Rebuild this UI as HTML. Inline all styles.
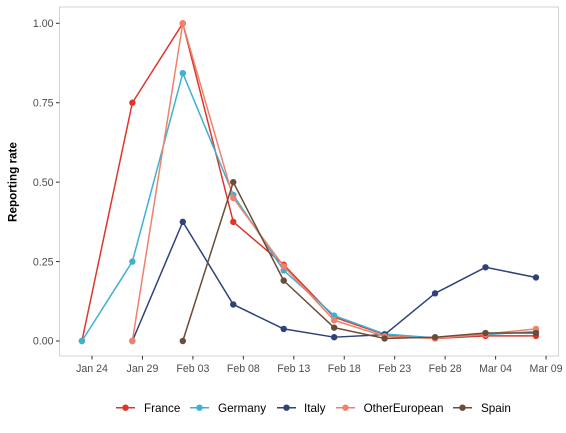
<!DOCTYPE html>
<html>
<head>
<meta charset="utf-8">
<title>Reporting rate</title>
<style>
html,body{margin:0;padding:0;background:#fff;}
svg{display:block;}
text{font-family:"Liberation Sans",Arial,sans-serif;}
</style>
</head>
<body>
<svg id="chart" xmlns="http://www.w3.org/2000/svg" width="566" height="433" viewBox="0 0 566 433"></svg>
<script>
const dayOffsets = [-1, 4, 9, 14, 19, 24, 29, 34, 39, 44];
const xTickDays = [0, 5, 10, 15, 20, 25, 30, 35, 40, 45];
const xTickLabels = ["Jan 24", "Jan 29", "Feb 03", "Feb 08", "Feb 13", "Feb 18", "Feb 23", "Feb 28", "Mar 04", "Mar 09"];
const yTicks = [0, 0.25, 0.5, 0.75, 1];
const yTickLabels = ["0.00", "0.25", "0.50", "0.75", "1.00"];
const seriesNames = ["France", "Germany", "Italy", "OtherEuropean", "Spain"];
const seriesColors = ["#E0352B", "#3FB1D0", "#2F4279", "#EE826D", "#6B4C38"];
const france = [0, 0.75, 1, 0.375, 0.24, 0.075, 0.02, 0.008, 0.016, 0.016];
const germany = [0, 0.25, 0.843, 0.46, 0.222, 0.08, 0.022, 0.01, 0.02, 0.03];
const italy = [null, 0, 0.375, 0.115, 0.038, 0.012, 0.02, 0.15, 0.232, 0.2];
const otherEuropean = [null, 0, 1, 0.45, 0.235, 0.065, 0.015, 0.008, 0.022, 0.038];
const spain = [null, null, 0, 0.5, 0.19, 0.042, 0.008, 0.012, 0.025, 0.025];
const seriesValues = [france, germany, italy, otherEuropean, spain];

const NS = "http://www.w3.org/2000/svg";
const svg = document.getElementById("chart");
const panel = {left: 59.5, right: 558.5, top: 7, bottom: 356};
function xScale(d) { return 92 + d * 10.09; }
function yScale(v) { return 341 - v * 317.7; }
function make(tag, attrs, parent) {
  const el = document.createElementNS(NS, tag);
  for (const k in attrs) el.setAttribute(k, attrs[k]);
  (parent || svg).appendChild(el);
  return el;
}
const legendKeyX = [116, 190, 277, 336, 453];
const legendTextX = [144, 218, 304, 363.6, 481];

const panelRect = make("rect", {x: panel.left, y: panel.top, width: panel.right - panel.left, height: panel.bottom - panel.top, fill: "#fff", stroke: "#d3d3d3", "stroke-width": 1});



yTicks.forEach((v, i) => {
  const tick = make("line", {x1: panel.left - 3.5, x2: panel.left, y1: yScale(v), y2: yScale(v), stroke: "#333", "stroke-width": 1});
  
  
  const label = make("text", {x: panel.left - 6, y: yScale(v) + 3.7, "text-anchor": "end", "font-size": 10.6, fill: "#4d4d4d"});
  label.textContent = yTickLabels[i];
  
  
});

xTickDays.forEach((d, i) => {
  const tick = make("line", {x1: xScale(d), x2: xScale(d), y1: panel.bottom, y2: panel.bottom + 3.5, stroke: "#333", "stroke-width": 1});
  
  
  const label = make("text", {x: xScale(d), y: 372, "text-anchor": "middle", "font-size": 10.6, fill: "#4d4d4d"});
  label.textContent = xTickLabels[i];
  
  
});

const yTitle = make("text", {x: 0, y: 0, transform: "translate(16.5,182) rotate(-90)", "text-anchor": "middle", "font-size": 11.7, "font-weight": "bold", fill: "#000"});
yTitle.textContent = "Reporting rate";



seriesValues.forEach((vals, s) => {
  const group = make("g", {});
  
  
  const pts = [];
  vals.forEach((v, i) => { if (v !== null) pts.push([xScale(dayOffsets[i]), yScale(v)]); });
  const line = make("polyline", {points: pts.map(p => p.join(",")).join(" "), fill: "none", stroke: seriesColors[s], "stroke-width": 1.5, "stroke-linejoin": "round"}, group);
  
  
  pts.forEach(p => {
    const dot = make("circle", {cx: p[0], cy: p[1], r: 3.2, fill: seriesColors[s]}, group);
    
    
  });
});

seriesNames.forEach((name, s) => {
  const entry = make("g", {});
  
  
  const key = make("line", {x1: legendKeyX[s], x2: legendKeyX[s] + 19, y1: 407.7, y2: 407.7, stroke: seriesColors[s], "stroke-width": 1.5}, entry);
  
  
  const dot = make("circle", {cx: legendKeyX[s] + 9.5, cy: 407.7, r: 3.2, fill: seriesColors[s]}, entry);
  
  
  const label = make("text", {x: legendTextX[s], y: 412, "font-size": 11.7, fill: "#000"}, entry);
  label.textContent = name;
  
  
});
</script>
</body>
</html>
